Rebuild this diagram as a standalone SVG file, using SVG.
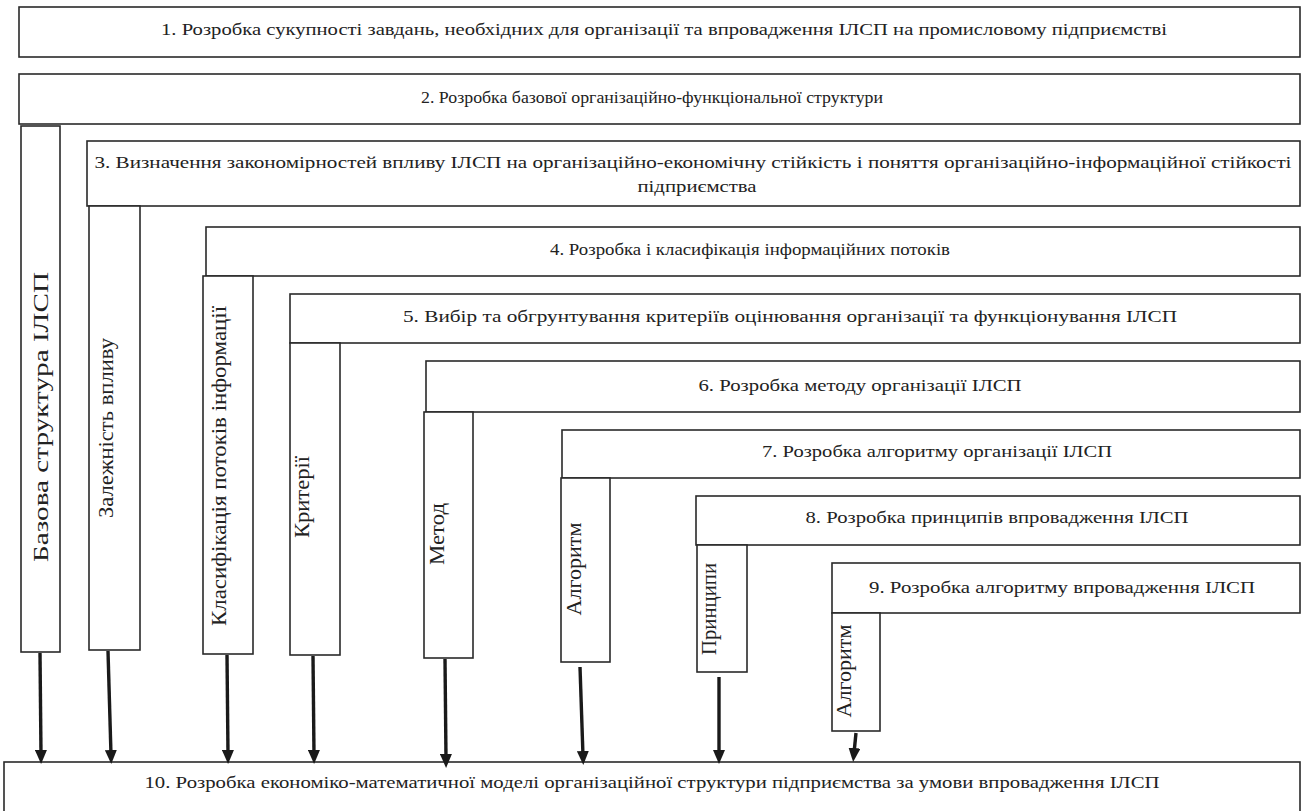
<svg xmlns="http://www.w3.org/2000/svg" width="1306" height="811" viewBox="0 0 1306 811">
<defs>
<style>
.box{fill:#fff;stroke:#2a2a2a;stroke-width:1.6}
.t{font-family:'Liberation Serif','Times New Roman',serif;font-size:17px;fill:#222}
.v{font-family:'Liberation Serif','Times New Roman',serif;font-size:20px;fill:#222}
.arr{stroke:#1a1a1a;stroke-width:3.4;fill:none;marker-end:url(#ah)}
</style>
<marker id="ah" markerUnits="userSpaceOnUse" viewBox="0 0 14 12" markerWidth="14" markerHeight="12" refX="5" refY="6" orient="auto">
<path d="M0,0 L14,6 L0,12 z" fill="#1a1a1a"/>
</marker>
</defs>
<rect width="1306" height="811" fill="#fff"/>
<g id="n1"><rect class="box" x="19" y="7" width="1281" height="50"/>
<text class="t" x="664" y="35" text-anchor="middle" textLength="1006" lengthAdjust="spacingAndGlyphs">1. Розробка сукупності завдань, необхідних для організації та впровадження ІЛСП на промисловому підприємстві</text></g>
<g id="n2"><rect class="box" x="19" y="74" width="1281" height="50"/>
<text class="t" x="652" y="103" text-anchor="middle" textLength="462" lengthAdjust="spacingAndGlyphs">2. Розробка базової організаційно-функціональної структури</text></g>
<g id="c1"><rect class="box" x="21" y="126" width="39" height="526"/>
<text class="v" transform="translate(48,417) rotate(-90)" text-anchor="middle" textLength="290" lengthAdjust="spacingAndGlyphs">Базова структура ІЛСП</text></g>
<g id="n3"><rect class="box" x="87" y="141" width="1213" height="65"/>
<text class="t" x="693" y="168" text-anchor="middle" textLength="1197" lengthAdjust="spacingAndGlyphs">3. Визначення закономірностей впливу ІЛСП на організаційно-економічну стійкість і поняття організаційно-інформаційної стійкості</text>
<text class="t" x="697" y="192" text-anchor="middle" textLength="119" lengthAdjust="spacingAndGlyphs">підприємства</text></g>
<g id="c2"><rect class="box" x="89" y="206" width="51" height="444"/>
<text class="v" transform="translate(113,428) rotate(-90)" text-anchor="middle" textLength="180" lengthAdjust="spacingAndGlyphs">Залежність впливу</text></g>
<g id="n4"><rect class="box" x="206" y="227" width="1094" height="49"/>
<text class="t" x="750" y="255" text-anchor="middle" textLength="400" lengthAdjust="spacingAndGlyphs">4. Розробка і класифікація інформаційних потоків</text></g>
<g id="c3"><rect class="box" x="203" y="276" width="50" height="378"/>
<text class="v" transform="translate(226,466) rotate(-90)" text-anchor="middle" textLength="320" lengthAdjust="spacingAndGlyphs">Класифікація потоків інформації</text></g>
<g id="n5"><rect class="box" x="290" y="294" width="1010" height="49"/>
<text class="t" x="790" y="322" text-anchor="middle" textLength="774" lengthAdjust="spacingAndGlyphs">5. Вибір та обгрунтування критеріїв оцінювання організації та функціонування ІЛСП</text></g>
<g id="c4"><rect class="box" x="290" y="343" width="50" height="312"/>
<text class="v" transform="translate(309,497) rotate(-90)" text-anchor="middle" textLength="82" lengthAdjust="spacingAndGlyphs">Критерії</text></g>
<g id="n6"><rect class="box" x="426" y="361" width="874" height="51"/>
<text class="t" x="860" y="391" text-anchor="middle" textLength="323" lengthAdjust="spacingAndGlyphs">6. Розробка методу організації ІЛСП</text></g>
<g id="c5"><rect class="box" x="424" y="412" width="49" height="246"/>
<text class="v" transform="translate(444,534) rotate(-90)" text-anchor="middle" textLength="62" lengthAdjust="spacingAndGlyphs">Метод</text></g>
<g id="n7"><rect class="box" x="562" y="430" width="738" height="48"/>
<text class="t" x="937" y="457" text-anchor="middle" textLength="350" lengthAdjust="spacingAndGlyphs">7. Розробка алгоритму організації ІЛСП</text></g>
<g id="c6"><rect class="box" x="561" y="478" width="49" height="184"/>
<text class="v" transform="translate(581,569) rotate(-90)" text-anchor="middle" textLength="93" lengthAdjust="spacingAndGlyphs">Алгоритм</text></g>
<g id="n8"><rect class="box" x="696" y="496" width="604" height="49"/>
<text class="t" x="997" y="523" text-anchor="middle" textLength="383" lengthAdjust="spacingAndGlyphs">8. Розробка принципів впровадження ІЛСП</text></g>
<g id="c7"><rect class="box" x="697" y="545" width="50" height="127"/>
<text class="v" transform="translate(716,609) rotate(-90)" text-anchor="middle" textLength="92" lengthAdjust="spacingAndGlyphs">Принципи</text></g>
<g id="n9"><rect class="box" x="832" y="563" width="468" height="50"/>
<text class="t" x="1062" y="593" text-anchor="middle" textLength="386" lengthAdjust="spacingAndGlyphs">9. Розробка алгоритму впровадження ІЛСП</text></g>
<g id="c8"><rect class="box" x="832" y="613" width="48" height="118"/>
<text class="v" transform="translate(851,671) rotate(-90)" text-anchor="middle" textLength="93" lengthAdjust="spacingAndGlyphs">Алгоритм</text></g>
<g id="n10"><rect class="box" x="4" y="762" width="1296" height="60"/>
<text class="t" x="652" y="788" text-anchor="middle" textLength="1015" lengthAdjust="spacingAndGlyphs">10. Розробка економіко-математичної моделі організаційної структури підприємства за умови впровадження ІЛСП</text></g>
<g id="connectors">
<line class="arr" x1="40" y1="653" x2="41" y2="755"/>
<line class="arr" x1="108" y1="651" x2="111" y2="755"/>
<line class="arr" x1="227" y1="655" x2="228" y2="755"/>
<line class="arr" x1="313" y1="656" x2="314" y2="755"/>
<line class="arr" x1="445" y1="659" x2="446" y2="759"/>
<line class="arr" x1="580" y1="667" x2="583" y2="756"/>
<line class="arr" x1="719" y1="677" x2="719" y2="755"/>
<line class="arr" x1="856" y1="733" x2="854" y2="753"/>
</g>
</svg>
